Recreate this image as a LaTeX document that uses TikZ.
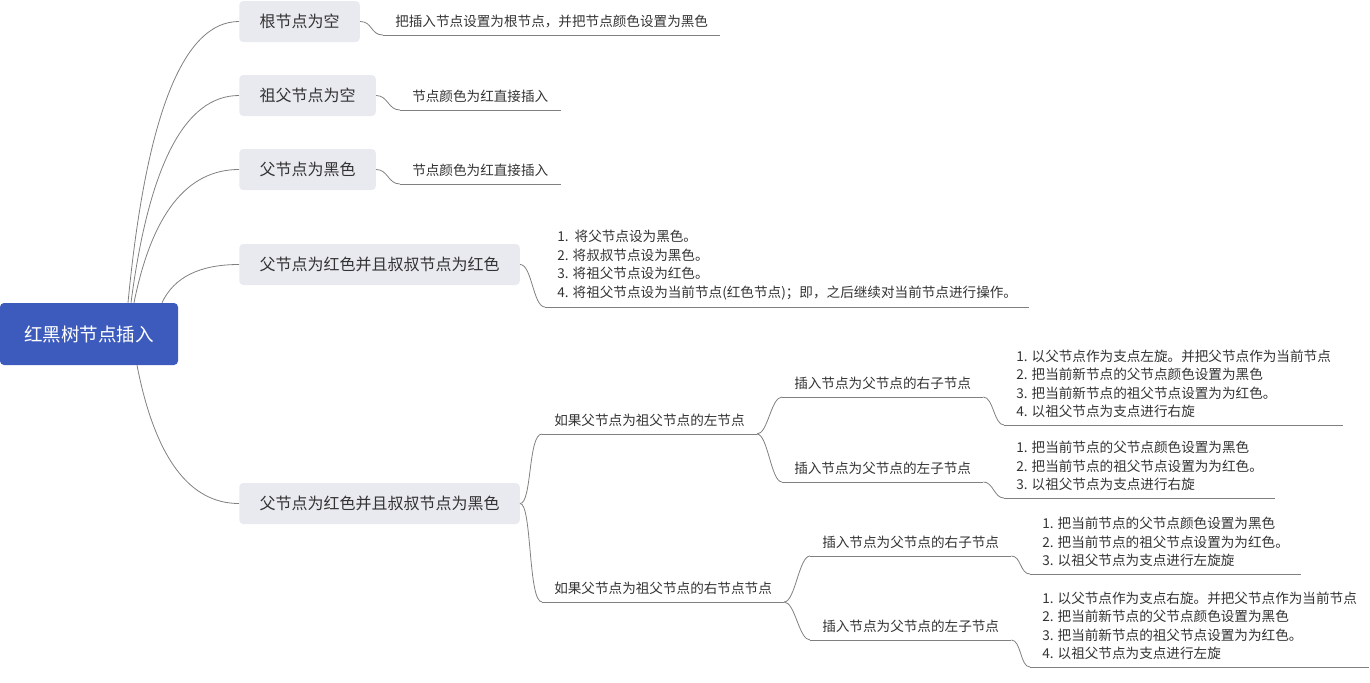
\documentclass[tikz,border=0pt]{standalone}
\usepackage{fontspec}
\setmainfont{Noto Sans CJK SC}
\usetikzlibrary{calc}

\definecolor{rootblue}{RGB}{61,91,189}
\definecolor{boxgray}{RGB}{233,234,240}
\definecolor{linegray}{RGB}{128,128,128}
\definecolor{txtgray}{RGB}{51,51,51}

\begin{document}
\begin{tikzpicture}[x=0.75pt,y=-0.75pt]

    % Styles
    \tikzset{
        root/.style={rectangle, rounded corners=3pt, fill=rootblue, text=white, minimum width=133.5pt, minimum height=46.5pt, font=\fontsize{13.9}{16}\selectfont},
        topic/.style={rectangle, rounded corners=3pt, fill=boxgray, text=txtgray, anchor=west, inner xsep=15.2pt, minimum height=30.75pt, font=\fontsize{12}{14}\selectfont},
        note/.style={anchor=south west, align=left, text=txtgray, inner xsep=9pt, inner ysep=5pt, font=\fontsize{10.2}{13.95}\selectfont},
        link/.style={draw=linegray, line width=0.6pt}
    }

    \useasboundingbox (0,0) rectangle (1370,682);

    % Root and main topics
    \node[root] (root) at (89,334) {红黑树节点插入};
    \node[topic] (b1) at (239,21.5) {根节点为空};
    \node[topic] (b2) at (239,95.5) {祖父节点为空};
    \node[topic] (b3) at (239,169.5) {父节点为黑色};
    \node[topic] (b4) at (239,264.5) {父节点为红色并且叔叔节点为红色};
    \node[topic] (b5) at (239,503.5) {父节点为红色并且叔叔节点为黑色};

    % Notes of the first four topics
    \node[note] (l1) at (383,35) {把插入节点设置为根节点，并把节点颜色设置为黑色};
    \node[note] (l2) at (400,110) {节点颜色为红直接插入};
    \node[note] (l3) at (400,184) {节点颜色为红直接插入};
    \node[note] (l4) at (545,307) {1.\ \ 将父节点设为黑色。\\2. 将叔叔节点设为黑色。\\3. 将祖父节点设为红色。\\4. 将祖父节点设为当前节点(红色节点)；即，之后继续对当前节点进行操作。};

    % Subtopics of the last topic
    \node[note] (s1) at (542,434) {如果父节点为祖父节点的左节点};
    \node[note] (s2) at (542,602) {如果父节点为祖父节点的右节点节点};
    \node[note] (t1) at (782,397) {插入节点为父节点的右子节点};
    \node[note] (t2) at (782,482) {插入节点为父节点的左子节点};
    \node[note] (t3) at (810,556) {插入节点为父节点的右子节点};
    \node[note] (t4) at (810,640) {插入节点为父节点的左子节点};

    \node[note] (l5) at (1004,425) {1. 以父节点作为支点左旋。并把父节点作为当前节点\\2. 把当前新节点的父节点颜色设置为黑色\\3. 把当前新节点的祖父节点设置为为红色。\\4. 以祖父节点为支点进行右旋};
    \node[note] (l6) at (1004,498) {1. 把当前节点的父节点颜色设置为黑色\\2. 把当前节点的祖父节点设置为为红色。\\3. 以祖父节点为支点进行右旋};
    \node[note] (l7) at (1030,574) {1. 把当前节点的父节点颜色设置为黑色\\2. 把当前节点的祖父节点设置为为红色。\\3. 以祖父节点为支点进行左旋旋};
    \node[note] (l8) at (1030,667) {1. 以父节点作为支点右旋。并把父节点作为当前节点\\2. 把当前新节点的父节点颜色设置为黑色\\3. 把当前新节点的祖父节点设置为为红色。\\4. 以祖父节点为支点进行左旋};

    % Underlines
    \foreach \n in {l1,l2,l3,l4,s1,s2,t1,t2,t3,t4,l5,l6,l7,l8}
        \draw[link] (\n.south west) -- (\n.south east);

    % Root to topics
    \draw[link] ($(root.north)+(39,0)$) .. controls +(18,-187.5) and +(-56,0) .. (b1.west);
    \draw[link] ($(root.north)+(42,0)$) .. controls +(18,-138) and +(-54,0) .. (b2.west);
    \draw[link] ($(root.north)+(45,0)$) .. controls +(18,-89) and +(-52,0) .. (b3.west);
    \draw[link] ($(root.north)+(73,0)$) .. controls +(12,-25.7) and +(-39,0) .. (b4.west);
    \draw[link] ($(root.south)+(48,0)$) .. controls +(18,92) and +(-50,0) .. (b5.west);

    % Topics to notes
    \draw[link] (b1.east) .. controls +(12.5,0) and +(-12.5,0) .. (l1.south west);
    \draw[link] (b2.east) .. controls +(12,0) and +(-12,0) .. (l2.south west);
    \draw[link] (b3.east) .. controls +(12,0) and +(-12,0) .. (l3.south west);
    \draw[link] (b4.east) .. controls +(12,0) and +(-12,0) .. (l4.south west);

    % Last topic branches
    \draw[link] (b5.east) .. controls +(12,0) and +(-14,0) .. (s1.south west);
    \draw[link] (b5.east) .. controls +(12,0) and +(-14,0) .. (s2.south west);
    \draw[link] (s1.south east) .. controls +(11,0) and +(-11,0) .. (t1.south west);
    \draw[link] (s1.south east) .. controls +(11,0) and +(-11,0) .. (t2.south west);
    \draw[link] (s2.south east) .. controls +(11,0) and +(-11,0) .. (t3.south west);
    \draw[link] (s2.south east) .. controls +(11,0) and +(-11,0) .. (t4.south west);
    \draw[link] (t1.south east) .. controls +(10,0) and +(-10,0) .. (l5.south west);
    \draw[link] (t2.south east) .. controls +(10,0) and +(-10,0) .. (l6.south west);
    \draw[link] (t3.south east) .. controls +(10,0) and +(-10,0) .. (l7.south west);
    \draw[link] (t4.south east) .. controls +(10,0) and +(-10,0) .. (l8.south west);

\end{tikzpicture}
\end{document}
